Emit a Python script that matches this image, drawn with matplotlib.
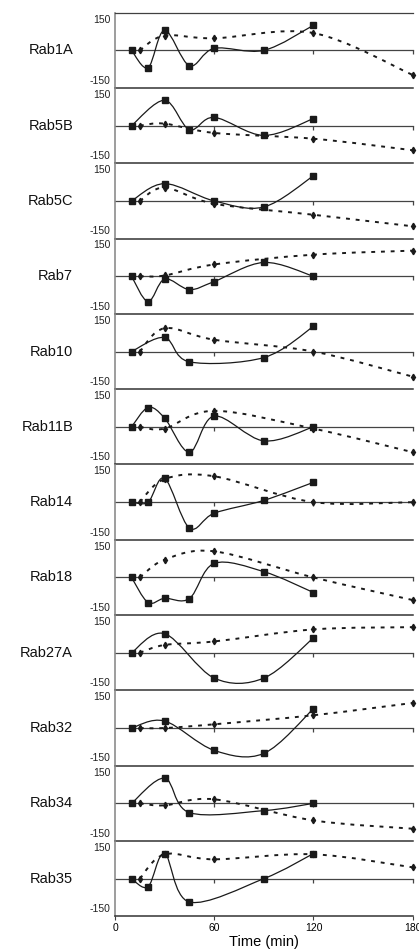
import matplotlib.pyplot as plt
from matplotlib.path import Path
from matplotlib.patches import PathPatch

plt.rcParams['font.family'] = ['Liberation Sans', 'DejaVu Sans']

rab_names = ['Rab1A', 'Rab5B', 'Rab5C', 'Rab7', 'Rab10', 'Rab11B',
             'Rab14', 'Rab18', 'Rab27A', 'Rab32', 'Rab34', 'Rab35']

# solid series (squares): time points differ per panel
solid_times = [
    [10, 20, 30, 45, 60, 90, 120],
    [10, 30, 45, 60, 90, 120],
    [10, 30, 60, 90, 120],
    [10, 20, 30, 45, 60, 90, 120],
    [10, 30, 45, 90, 120],
    [10, 20, 30, 45, 60, 90, 120],
    [10, 20, 30, 45, 60, 90, 120],
    [10, 20, 30, 45, 60, 90, 120],
    [10, 30, 60, 90, 120],
    [10, 30, 60, 90, 120],
    [10, 30, 45, 90, 120],
    [10, 20, 30, 45, 90, 120],
]
solid_values = [
    [0, -69, 80, -61, 8, 0, 100],
    [0, 101, -16, 33, -39, 28],
    [0, 69, 0, -24, 100],
    [0, -101, -11, -53, -21, 55, 0],
    [0, 56, -41, -24, 100],
    [0, 77, 35, -101, 43, -56, 0],
    [0, 0, 95, -103, -44, 7, 79],
    [0, -100, -83, -84, 56, 23, -60],
    [0, 76, -101, -101, 59],
    [0, 28, -89, -101, 77],
    [0, 100, -37, -29, 0],
    [0, -32, 100, -93, 0, 100],
]

# dashed series (diamonds)
dashed_times = [15, 30, 60, 120, 180]
dashed_values = [
    [0, 59, 48, 69, -98],
    [0, 8, -29, -52, -98],
    [0, 53, -11, -55, -101],
    [0, 3, 47, 86, 102],
    [0, 93, 47, 0, -100],
    [0, -7, 64, -7, -101],
    [0, 92, 103, 0, 0],
    [0, 71, 104, 0, -90],
    [0, 31, 45, 93, 102],
    [0, 0, 15, 51, 100],
    [0, -8, 16, -68, -101],
    [0, 97, 77, 97, 45],
]

x_ticks = [0, 60, 120, 180]


def smooth_path(xs, ys):
    # Excel-like smoothed line: Catmull-Rom segments as cubic Beziers
    pts = list(zip(xs, ys))
    n = len(pts)
    verts = [pts[0]]
    codes = [Path.MOVETO]
    for i in range(n - 1):
        p0 = pts[i - 1] if i > 0 else pts[i]
        p1 = pts[i]
        p2 = pts[i + 1]
        p3 = pts[i + 2] if i + 2 < n else pts[i + 1]
        c1 = (p1[0] + (p2[0] - p0[0]) / 6, p1[1] + (p2[1] - p0[1]) / 6)
        c2 = (p2[0] - (p3[0] - p1[0]) / 6, p2[1] - (p3[1] - p1[1]) / 6)
        verts += [c1, c2, p2]
        codes += [Path.CURVE4] * 3
    return Path(verts, codes)


fig = plt.figure(figsize=(4.19, 9.51), dpi=100)

left = 115 / 419
width = 297.7 / 419
bottom = 34.7 / 951
panel_h = 75.3 / 951
n = len(rab_names)

for i, name in enumerate(rab_names):
    ax = fig.add_axes([left, bottom + (n - 1 - i) * panel_h, width, panel_h])
    ax.set_xlim(0, 180)
    ax.set_ylim(-150, 150)
    ax.patch.set_alpha(0)

    ax.spines['right'].set_visible(False)
    ax.spines['top'].set_visible(i == 0)
    ax.spines['top'].set_color('#404040')
    ax.spines['top'].set_linewidth(0.9)
    ax.spines['left'].set_color('#8c8c8c')
    ax.spines['left'].set_linewidth(1.2)
    ax.spines['bottom'].set_color('#333333')
    ax.spines['bottom'].set_linewidth(1.1)

    ax.set_yticks([])
    ax.text(-0.015, 0.975, '150', transform=ax.transAxes, ha='right',
            va='top', fontsize=7.5, color='#222222')
    ax.text(-0.015, 0.03, '-150', transform=ax.transAxes, ha='right',
            va='bottom', fontsize=7.5, color='#222222')

    # zero line with small ticks
    sec = ax.secondary_xaxis(0.5)
    sec.set_xticks(x_ticks[1:])
    sec.tick_params(direction='in', length=3, width=0.9, color='#444444',
                    labeltop=False)
    sec.spines['top'].set_color('#444444')
    sec.spines['top'].set_linewidth(0.9)

    if i == n - 1:
        ax.set_xticks(x_ticks)
        ax.tick_params(axis='x', direction='out', length=3, width=0.8,
                       color='#404040', labelsize=7.5, pad=1.5)
        ax.set_xlabel('Time (min)', fontsize=10.5, labelpad=2)
    else:
        ax.set_xticks([])

    ax.add_patch(PathPatch(smooth_path(dashed_times, dashed_values[i]),
                           fill=False, lw=1.4, ls=(0, (2, 3)),
                           edgecolor='#1a1a1a', clip_on=False))
    ax.plot(dashed_times, dashed_values[i], ls='none', marker='d',
            markersize=3.3, color='#1a1a1a', clip_on=False)

    ax.add_patch(PathPatch(smooth_path(solid_times[i], solid_values[i]),
                           fill=False, lw=0.9, edgecolor='#1a1a1a',
                           clip_on=False))
    ax.plot(solid_times[i], solid_values[i], ls='none', marker='s',
            markersize=4.4, color='#1a1a1a', clip_on=False, zorder=3)

    ax.text(-0.141, 0.5, name, transform=ax.transAxes, ha='right',
            va='center', fontsize=10.5, color='#111111')

fig.savefig('out.png', dpi=100)
